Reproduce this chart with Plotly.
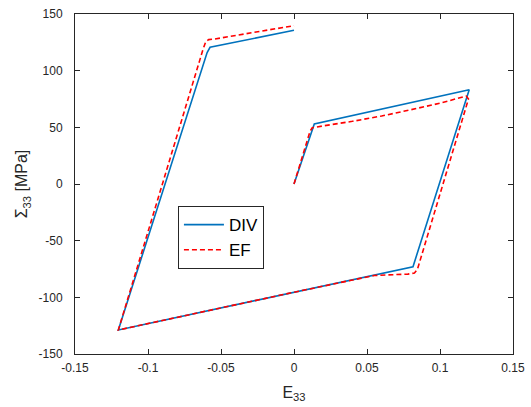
import plotly.graph_objects as go

# DIV series (strain E33, stress Sigma33 in MPa)
div_e = [0.0, 0.0139, 0.120, 0.0815, -0.1203, -0.0595, -0.0575, 0.0]
div_s = [0.0, 52.9, 83.2, -73.0, -128.8, 116.0, 120.6, 135.6]

# EF series
ef_e = [0.0, 0.011, 0.0125, 0.016, 0.02, 0.04, 0.06, 0.08, 0.10, 0.118, 0.1195,
        0.0845, 0.0825, 0.078, 0.07, 0.055, 0.0, -0.1203,
        -0.0625, -0.0605, -0.0585, -0.055, 0.0]
ef_s = [0.0, 46.5, 49.6, 50.6, 51.3, 55.3, 60.0, 65.5, 71.3, 77.6, 75.0,
        -75.5, -78.5, -79.5, -79.8, -80.7, -95.5, -128.8,
        118.0, 125.5, 127.4, 127.8, 139.7]

x_ticks = [-0.15, -0.1, -0.05, 0, 0.05, 0.1, 0.15]
x_ticktext = ["-0.15", "-0.1", "-0.05", "0", "0.05", "0.1", "0.15"]
y_ticks = [-150, -100, -50, 0, 50, 100, 150]
y_ticktext = ["-150", "-100", "-50", "0", "50", "100", "150"]

axis_color = "#262626"
font_family = "Arial, Liberation Sans, sans-serif"

fig = go.Figure()
fig.add_trace(go.Scatter(x=div_e, y=div_s, mode="lines", name="DIV",
                         line=dict(color="#0072BD", width=1.6)))
fig.add_trace(go.Scatter(x=ef_e, y=ef_s, mode="lines", name="EF",
                         line=dict(color="#FF0000", width=1.6, dash="5px,3px")))

axis_common = dict(
    showgrid=False, zeroline=False, showline=True, linecolor=axis_color, linewidth=1,
    mirror="allticks", ticks="inside", ticklen=5, tickcolor=axis_color, tickwidth=1,
    tickfont=dict(family=font_family, size=12, color=axis_color),
    automargin=False,
)

fig.update_layout(
    width=531, height=407,
    margin=dict(l=75, r=18, t=14, b=53),
    paper_bgcolor="white", plot_bgcolor="white",
    font=dict(family=font_family, color=axis_color),
    xaxis=dict(range=[-0.15, 0.15], tickvals=x_ticks, ticktext=x_ticktext,
               ticklabelstandoff=3,
               title=dict(text="E<sub>33</sub>", font=dict(size=16, color=axis_color), standoff=12),
               **axis_common),
    yaxis=dict(range=[-150, 150], tickvals=y_ticks, ticktext=y_ticktext,
               ticklabelstandoff=9,
               title=dict(text="Σ<sub>33</sub> [MPa]", font=dict(size=16, color=axis_color), standoff=6),
               **axis_common),
    legend=dict(x=0.235, y=0.435, xanchor="left", yanchor="top",
                bordercolor=axis_color, borderwidth=1, bgcolor="white",
                font=dict(family=font_family, size=17, color="black"),
                tracegroupgap=0, itemwidth=40),
    showlegend=True,
)

fig.write_html("out.html", config={"displayModeBar": False},
               post_script="document.body.style.margin='0px';document.body.style.padding='0px';")
